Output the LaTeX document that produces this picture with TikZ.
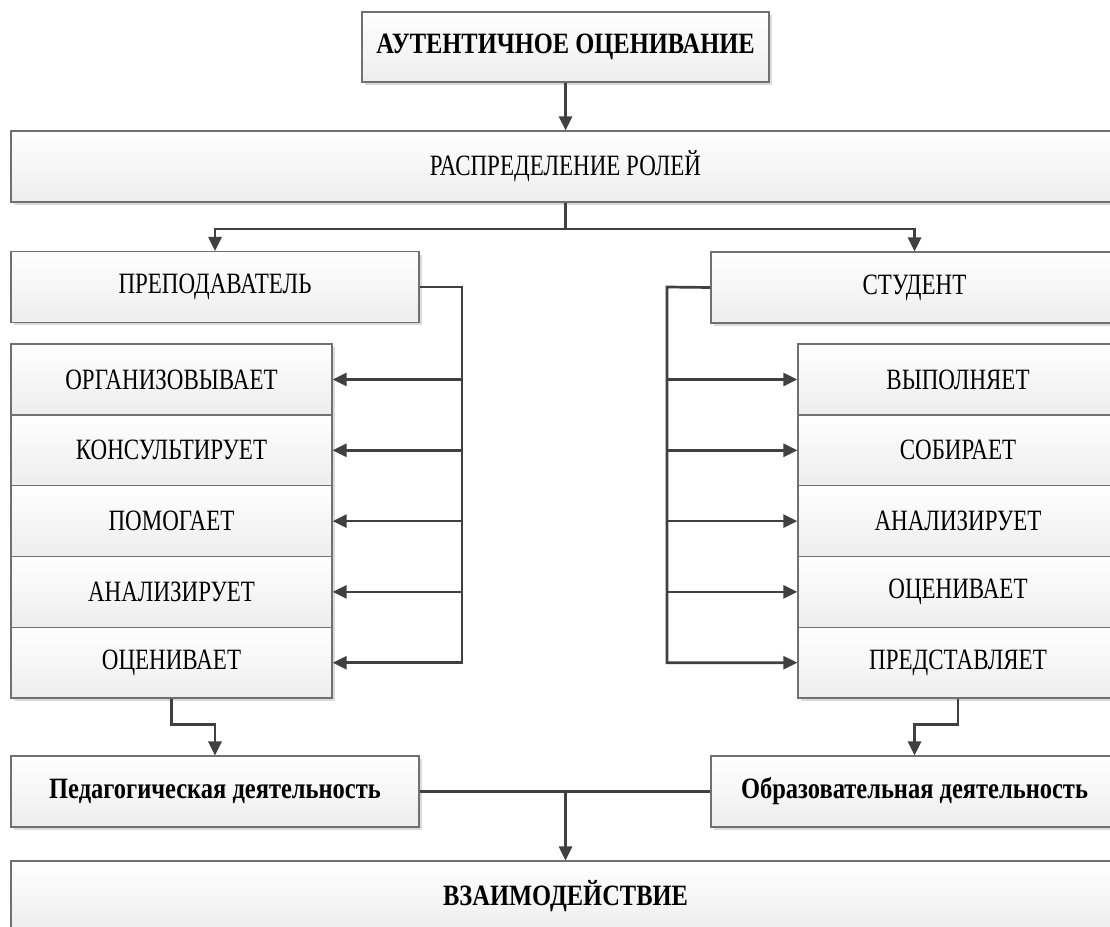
\documentclass[tikz,border=0pt]{standalone}
\usepackage{fontspec}
\setmainfont[FakeStretch=0.78,BoldFeatures={FakeStretch=0.83}]{Liberation Serif}
\usetikzlibrary{arrows.meta,shadows,calc}
\definecolor{linec}{HTML}{404040}
\definecolor{boxc}{HTML}{707070}
\begin{document}
\begin{tikzpicture}[x=1pt,y=-1pt,
  box/.style={draw=boxc, line width=1.3pt, top color=white, bottom color=black!7,
    inner sep=0pt, minimum height=70.8pt, text=black,
    font=\fontsize{29.5}{32}\selectfont,
    drop shadow={shadow xshift=3pt,shadow yshift=-3pt,fill=black!14,opacity=1}},
  bbox/.style={box, font=\fontsize{29.5}{32}\selectfont\bfseries},
  conn/.style={draw=linec, line width=2.7pt},
  arr/.style={conn, -{Triangle[length=14pt,width=13pt]}}]
\useasboundingbox (0,0) rectangle (1110,926);
\clip (0,0) rectangle (1110,926);
\fill[white] (0,0) rectangle (1110,926);

\node[bbox, minimum width=407pt, minimum height=70pt] (top) at (565.5,47) {АУТЕНТИЧНОЕ ОЦЕНИВАНИЕ};
\node[box, minimum width=1109pt] (dist) at (565.5,166.5) {РАСПРЕДЕЛЕНИЕ РОЛЕЙ};
\node[box, minimum width=408pt] (prep) at (215,287) {ПРЕПОДАВАТЕЛЬ};
\node[box, minimum width=407pt] (stud) at (914.5,287.5) {СТУДЕНТ};

\node[box, minimum width=321pt] (l1) at (171.5,379.5) {ОРГАНИЗОВЫВАЕТ};
\node[box, minimum width=321pt] (l2) at (171.5,450.3) {КОНСУЛЬТИРУЕТ};
\node[box, minimum width=321pt] (l3) at (171.5,521.1) {ПОМОГАЕТ};
\node[box, minimum width=321pt] (l4) at (171.5,591.9) {АНАЛИЗИРУЕТ};
\node[box, minimum width=321pt] (l5) at (171.5,662.7) {ОЦЕНИВАЕТ};

\node[box, minimum width=320pt] (r1) at (958,379.5) {ВЫПОЛНЯЕТ};
\node[box, minimum width=320pt] (r2) at (958,450.3) {СОБИРАЕТ};
\node[box, minimum width=320pt] (r3) at (958,521.1) {АНАЛИЗИРУЕТ};
\node[box, minimum width=320pt] (r4) at (958,591.9) {ОЦЕНИВАЕТ};
\node[box, minimum width=320pt] (r5) at (958,662.7) {ПРЕДСТАВЛЯЕТ};

\node[bbox, minimum width=408pt] (ped) at (215,791.5) {Педагогическая деятельность};
\node[bbox, minimum width=407pt] (obr) at (914.5,791.5) {Образовательная деятельность};
\node[bbox, minimum width=1109pt] (vz) at (565.5,896.5) {ВЗАИМОДЕЙСТВИЕ};

% connectors
\draw[arr] (top.south) -- (dist.north);
\coordinate (split) at (565.5,229);
\draw[conn] (dist.south) -- (split);
\draw[arr] (split) -| (prep.north);
\draw[arr] (split) -| (stud.north);

\coordinate (lbus) at (462,287);
\draw[arr] (prep.east) -- (lbus) |- (l5.east);
\foreach \i in {1,2,3,4}{\draw[arr] (lbus |- l\i.east) -- (l\i.east);}

\coordinate (rbus) at (667,287);
\draw[arr] (stud.west) -- (rbus) |- (r5.west);
\foreach \i in {1,2,3,4}{\draw[arr] (rbus |- r\i.west) -- (r\i.west);}

\draw[arr] (l5.south) -- ++(0,26) -| (ped.north);
\draw[arr] (r5.south) -- ++(0,26) -| (obr.north);

\draw[conn] (ped.east) -- (obr.west);
\draw[arr] (ped.east -| vz.north) -- (vz.north);
\end{tikzpicture}
\end{document}
